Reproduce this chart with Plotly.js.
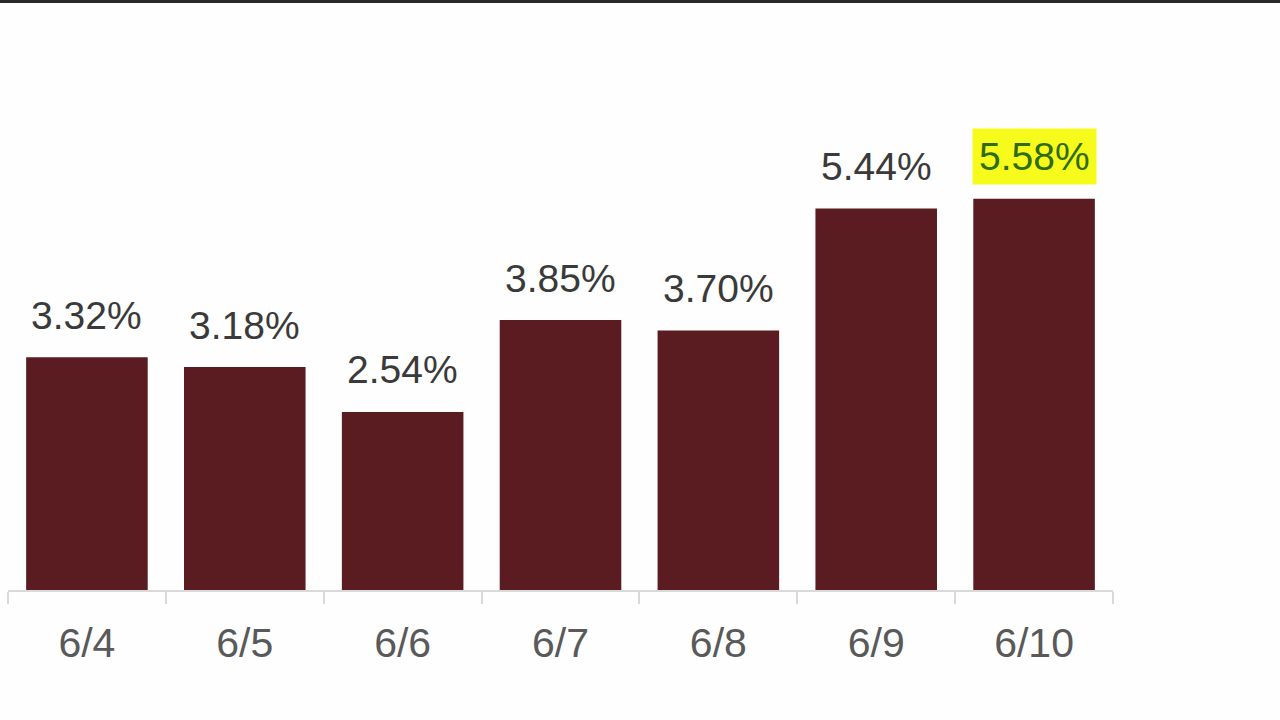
<!DOCTYPE html>
<html>
<head>
<meta charset="utf-8">
<script src="https://cdn.plot.ly/plotly-3.0.1.min.js"></script>
<style>
html,body{margin:0;padding:0;background:#fdfefd;}
#chart{width:1280px;height:720px;}
#topline{position:absolute;left:0;top:0;width:1280px;height:3px;background:#2a2a2a;}
</style>
</head>
<body>
<div id="chart"></div>
<div id="topline"></div>
<script>
const categories = ['6/4','6/5','6/6','6/7','6/8','6/9','6/10'];
const values = [3.32, 3.18, 2.54, 3.85, 3.70, 5.44, 5.58];
const labels = ['3.32%','3.18%','2.54%','3.85%','3.70%','5.44%','5.58%'];
const highlighted = [false,false,false,false,false,false,true];

const trace = {
  type: 'bar',
  x: categories,
  y: values,
  marker: {color: '#5a1c21'},
  hoverinfo: 'none'
};

const annotations = categories.map((c, i) => ({
  x: c, y: values[i], xref: 'x', yref: 'y',
  text: labels[i],
  showarrow: false,
  yanchor: 'middle',
  yshift: 42,
  font: {family: 'Liberation Sans, Arial, sans-serif', size: 39, color: highlighted[i] ? '#2f6b10' : '#3a3a3a'},
  bgcolor: highlighted[i] ? '#f7fb1c' : 'rgba(0,0,0,0)',
  borderpad: 6
}));

const layout = {
  width: 1280, height: 720,
  margin: {l: 8, r: 167, t: 20, b: 130},
  paper_bgcolor: '#fdfefd',
  plot_bgcolor: '#fdfefd',
  bargap: 0.23,
  showlegend: false,
  xaxis: {
    type: 'category',
    showline: true, linecolor: '#d9d9d9', linewidth: 2,
    ticks: 'outside', tickson: 'boundaries', ticklen: 12, tickcolor: '#d9d9d9', tickwidth: 2,
    tickfont: {family: 'Liberation Sans, Arial, sans-serif', size: 41, color: '#595959'},
    ticklabelstandoff: 16,
    showgrid: false, zeroline: false
  },
  yaxis: {
    range: [0, 8.13],
    visible: false, showgrid: false, zeroline: false
  },
  annotations: annotations
};

Plotly.newPlot('chart', [trace], layout, {displayModeBar: false, staticPlot: true});
</script>
</body>
</html>
